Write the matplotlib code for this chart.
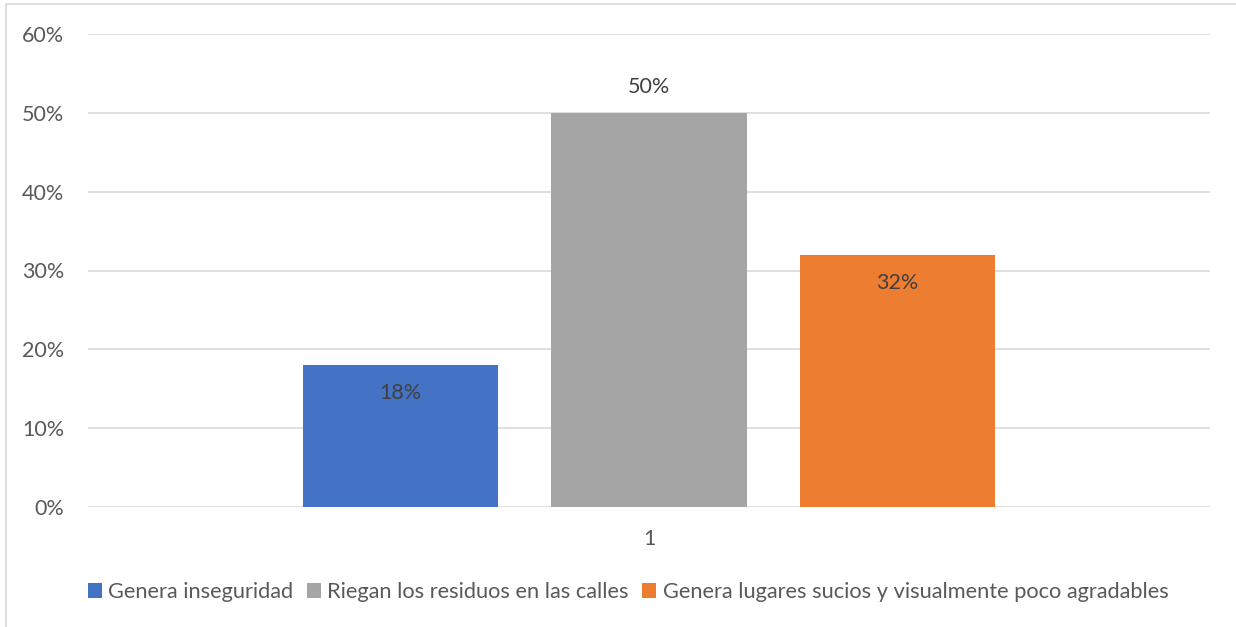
import matplotlib.pyplot as plt
from matplotlib.patches import Rectangle
from matplotlib.ticker import FuncFormatter

plt.rcParams['font.family'] = ['Lato', 'DejaVu Sans']

# datos
categorias = ["Genera inseguridad", "Riegan los residuos en las calles",
              "Genera lugares sucios y visualmente poco agradables"]
valores = [0.18, 0.50, 0.32]
colores = ["#4472C4", "#A5A5A5", "#ED7D31"]
etiqueta_x = "1"

fig = plt.figure(figsize=(12.36, 6.27), dpi=100)
ax = fig.add_axes([88/1236, 1-507/627, 1122/1236, 473/627])

# marco del grafico
fig.patches.append(Rectangle((6/1236, -0.1), 1.2, 1.1 - 4/627, transform=fig.transFigure,
                             fill=False, edgecolor="#d9d9d9", linewidth=1.2))

pos = [-1, 0, 1]
for p, v, c, n in zip(pos, valores, colores, categorias):
    ax.bar(p, v, width=0.785, color=c, label=n, zorder=3)

for p, v in zip(pos, valores):
    dy = 26 if v == max(valores) else -28
    ax.annotate(f"{v*100:.0f}%", (p, v), xytext=(0, dy), textcoords="offset pixels",
                ha="center", va="center", fontsize=15.5, color="#404040")

ax.set_xlim(-2.2575, 2.2575)
ax.set_ylim(0, 0.6)
ax.set_yticks([0, 0.1, 0.2, 0.3, 0.4, 0.5, 0.6])
ax.yaxis.set_major_formatter(FuncFormatter(lambda y, _: f"{y*100:.0f}%"))
ax.set_xticks([0])
ax.set_xticklabels([etiqueta_x])
ax.grid(axis="y", color="#d9d9d9", linewidth=1.2, zorder=0)
for s in ax.spines.values():
    s.set_visible(False)
ax.tick_params(axis="both", length=0, labelsize=15.5, labelcolor="#595959")
ax.tick_params(axis="y", pad=17)
ax.tick_params(axis="x", pad=16)

fig.legend(loc="center", bbox_to_anchor=(628/1236, 1-592/627), ncol=3, frameon=False,
           fontsize=15.7, labelcolor="#595959", handlelength=0.65, handleheight=0.65,
           handletextpad=0.3, columnspacing=0.6)

fig.savefig("out.png", dpi=100)
